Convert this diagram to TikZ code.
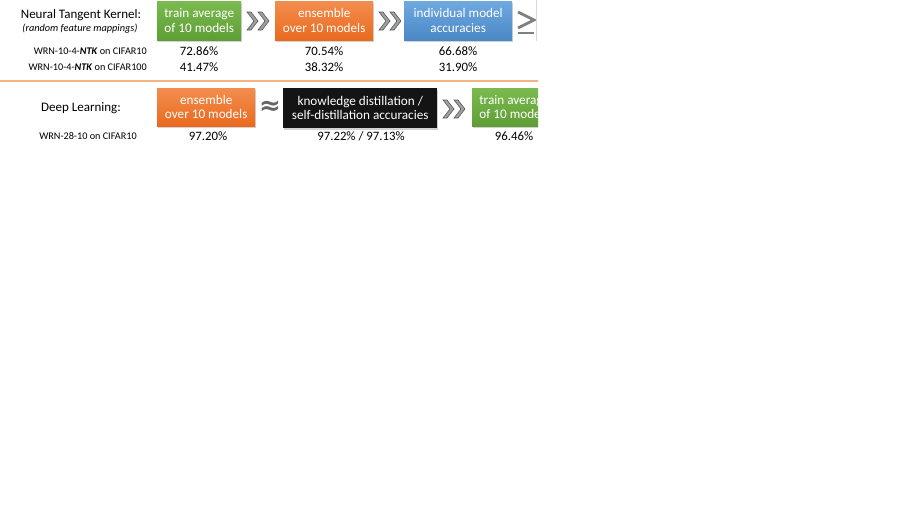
\documentclass[tikz,border=0pt]{standalone}
\usepackage{fontspec}
\setmainfont{Carlito}
\newfontfamily\symfont{DejaVu Sans}
\usetikzlibrary{shadows}
\definecolor{grnT}{HTML}{7BBA4E}
\definecolor{grnB}{HTML}{5F9E36}
\definecolor{orgT}{HTML}{F38D4E}
\definecolor{orgB}{HTML}{E96A1F}
\definecolor{bluT}{HTML}{6FA9DF}
\definecolor{bluB}{HTML}{4A87C6}
\definecolor{sepline}{HTML}{F5B183}
\tikzset{
  box/.style={anchor=north west, inner sep=0pt, align=center, text=white,
    font=\fontsize{13.2}{14.5}\selectfont,
    drop shadow={shadow xshift=1.2pt, shadow yshift=-1.5pt, opacity=0.35}},
  grnbox/.style={box, top color=grnT, bottom color=grnB},
  orgbox/.style={box, top color=orgT, bottom color=orgB},
  blubox/.style={box, top color=bluT, bottom color=bluB},
  blkbox/.style={box, fill=black!92},
  val/.style={font=\fontsize{12.8}{14}\selectfont, inner sep=0pt},
  rowlab/.style={font=\fontsize{10.2}{11}\selectfont, inner sep=0pt},
  title/.style={font=\fontsize{13}{15}\selectfont, inner sep=0pt},
  chev/.style={fill=gray!75, draw=black!65, line width=0.6pt},
  relsym/.style={draw=black!50, line width=2.8pt, line cap=butt}
}
\newcommand\drawchevs[1]{%
  \begin{scope}[shift={(#1)}]
    \filldraw[chev] (0,-9) -- (4,-9) -- (11,0) -- (4,9) -- (0,9) -- (7,0) -- cycle;
    \filldraw[chev] (11,-9) -- (15,-9) -- (22,0) -- (15,9) -- (11,9) -- (18,0) -- cycle;
  \end{scope}}
\begin{document}
\begin{tikzpicture}[x=1pt,y=-1pt]
\useasboundingbox[fill=white] (0,0) rectangle (924,522);
\begin{scope}
\clip (0,0) rectangle (538,150);
% top row
\node[title] (ntk) at (81,15) {Neural Tangent Kernel:};
\node[rowlab, font=\fontsize{10.3}{11}\selectfont\itshape] (rfm) at (80,29) {(random feature mappings)};
\node[grnbox, minimum width=84pt, minimum height=39pt] (tavg) at (157,1) {train average\\of 10 models};
\node[orgbox, minimum width=98pt, minimum height=39pt] (ens) at (275,1) {ensemble\\over 10 models};
\node[blubox, minimum width=108pt, minimum height=39pt] (ind) at (404,1) {individual model\\accuracies};
\coordinate (c1) at (247,21);
\coordinate (c2) at (379,21);
\drawchevs{c1}
\drawchevs{c2}
\draw[relsym] (518,12) -- (534,20) -- (518,28);
\draw[relsym] (518,33) -- (534,33);
\draw[gray!30, line width=0.8pt] (536.5,0) -- (536.5,41);
% values
\node[rowlab, anchor=east] (r1) at (147,51) {WRN-10-4-\textbf{\textit{NTK}} on CIFAR10};
\node[rowlab, anchor=east] (r2) at (147,67) {WRN-10-4-\textbf{\textit{NTK}} on CIFAR100};
\node[val] (v11) at (199,51) {72.86\%};
\node[val] (v12) at (324,51) {70.54\%};
\node[val] (v13) at (458,51) {66.68\%};
\node[val] (v21) at (199,67) {41.47\%};
\node[val] (v22) at (324,67) {38.32\%};
\node[val] (v23) at (458,67) {31.90\%};
% separator
\coordinate (sL) at (0,81);
\coordinate (sR) at (538,81);
\draw[sepline, line width=1.2pt] (sL) -- (sR);
% bottom row
\node[title] (dl) at (81,108) {Deep Learning:};
\node[orgbox, minimum width=98pt, minimum height=38pt] (ens2) at (157,88) {ensemble\\over 10 models};
\node[text=black!60, font=\symfont\bfseries\fontsize{26}{26}\selectfont, inner sep=0pt] (approx) at (270,108) {≈};
\node[blkbox, minimum width=154pt, minimum height=40pt] (kd) at (283,88) {knowledge distillation /\\self-distillation accuracies};
\coordinate (c3) at (443,109);
\drawchevs{c3}
\node[grnbox, minimum width=84pt, minimum height=38pt] (tavg2) at (472,88) {train average\\of 10 models};
\node[rowlab] (r3) at (88,136) {WRN-28-10 on CIFAR10};
\node[val] (v31) at (208,136) {97.20\%};
\node[val] (v32) at (361,136) {97.22\% / 97.13\%};
\node[val] (v33) at (514,136) {96.46\%};
\end{scope}
\end{tikzpicture}
\end{document}
